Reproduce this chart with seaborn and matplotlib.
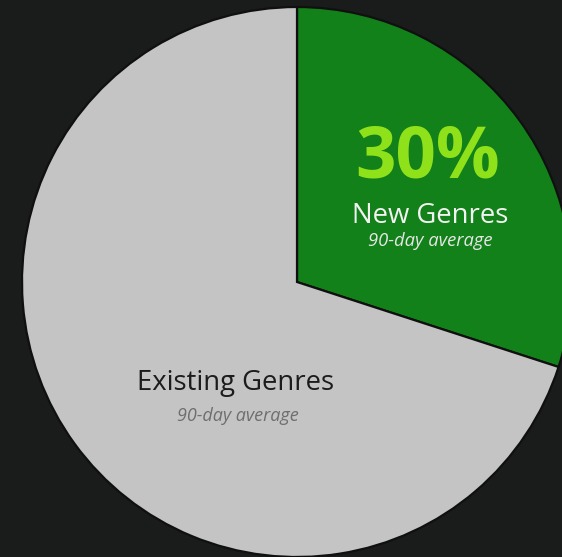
import matplotlib
matplotlib.use("Agg")
import matplotlib.pyplot as plt
import seaborn as sns

# Share of listening by genre type (90-day average)
labels = ["New Genres", "Existing Genres"]
shares = [30, 70]
subtitles = ["90-day average", "90-day average"]

sns.set_theme(style="dark")
plt.rcParams["font.family"] = ["Open Sans", "DejaVu Sans"]

bg = "#1a1b1b"
colors = ["#13811a", "#c4c4c4"]

W, H = 562, 557
fig = plt.figure(figsize=(W / 100, H / 100), dpi=100, facecolor=bg)
ax = fig.add_axes([0, 0, 1, 1])
ax.set_facecolor(bg)

cx, cy, r = 297, H - 282, 275
ax.pie(shares, colors=colors, startangle=90, counterclock=False,
       center=(cx, cy), radius=r, frame=True,
       wedgeprops=dict(edgecolor="#101010", linewidth=1.6))
ax.set_xlim(0, W)
ax.set_ylim(0, H)
ax.set_aspect("equal")
ax.axis("off")

# New genres annotation
ax.text(428, H - 158, f"{shares[0]}%", ha="center", va="center",
        fontsize=51, fontweight="bold", color="#8fe21a")
ax.text(430, H - 216, labels[0], ha="center", va="center",
        fontsize=19.8, color="#f2f2f2")
ax.text(430, H - 241, subtitles[0], ha="center", va="center",
        fontsize=13.2, style="italic", color="#e6e6e6")

# Existing genres annotation
ax.text(236, H - 383, labels[1], ha="center", va="center",
        fontsize=19.8, color="#1c1c1c")
ax.text(238, H - 416, subtitles[1], ha="center", va="center",
        fontsize=13.0, style="italic", color="#6e6e6e")

fig.savefig("out.png", dpi=100, facecolor=bg)
